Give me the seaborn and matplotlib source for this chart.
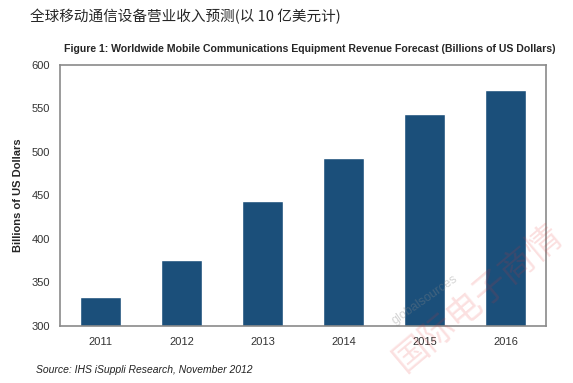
import matplotlib
matplotlib.use("Agg")
import matplotlib.pyplot as plt
import seaborn as sns
import pandas as pd

years = ["2011", "2012", "2013", "2014", "2015", "2016"]
revenue = [333, 376, 444, 493, 544, 571]
y_ticks = [300, 350, 400, 450, 500, 550, 600]

cn_title = "全球移动通信设备营业收入预测(以 10 亿美元计)"
fig_title = "Figure 1: Worldwide Mobile Communications Equipment Revenue Forecast (Billions of US Dollars)"
source = "Source: IHS iSuppli Research, November 2012"

sns.set_style("white")
plt.rcParams["font.family"] = ["Liberation Sans", "Noto Sans CJK SC", "DejaVu Sans"]

df = pd.DataFrame({"year": years, "revenue": revenue})

fig = plt.figure(figsize=(5.73, 3.83), dpi=100)
ax = fig.add_axes([60 / 573, 1 - 326 / 383, 486 / 573, 261 / 383])

sns.barplot(data=df, x="year", y="revenue", color="#1b4f7a", saturation=1, width=0.5, ax=ax)

ax.set_ylim(300, 600)
ax.set_xlim(-0.5, 5.5)
ax.set_yticks(y_ticks)
ax.tick_params(axis="both", length=0, labelsize=8, colors="#333333")
ax.tick_params(axis="x", pad=8)
ax.tick_params(axis="y", pad=7)
ax.set_xlabel("")
ax.set_ylabel("Billions of US Dollars", fontsize=8, fontweight="bold", labelpad=6)
for s in ax.spines.values():
    s.set_color("#8a8a8a")
    s.set_linewidth(1.2)

fig.text(30 / 573, 1 - 17 / 383, cn_title, fontsize=10.5, va="center",
         family=["Noto Sans CJK SC", "DejaVu Sans"])
fig.text(64 / 573, 1 - 49 / 383, fig_title, fontsize=7.6, fontweight="bold", va="center")
fig.text(36 / 573, 1 - 370 / 383, source, fontsize=7.5, style="italic", va="center", color="#222222")

# watermark
fig.text(478 / 573, 1 - 298 / 383, "国际电子商情", fontsize=25, color="#e83030", alpha=0.15,
         rotation=40, ha="center", va="center", family=["Noto Sans CJK SC", "DejaVu Sans"])
fig.text(425 / 573, 1 - 300 / 383, "globalsources", fontsize=9, color="#888888", alpha=0.35,
         rotation=35, ha="center", va="center")

fig.savefig("out.png", dpi=100)
